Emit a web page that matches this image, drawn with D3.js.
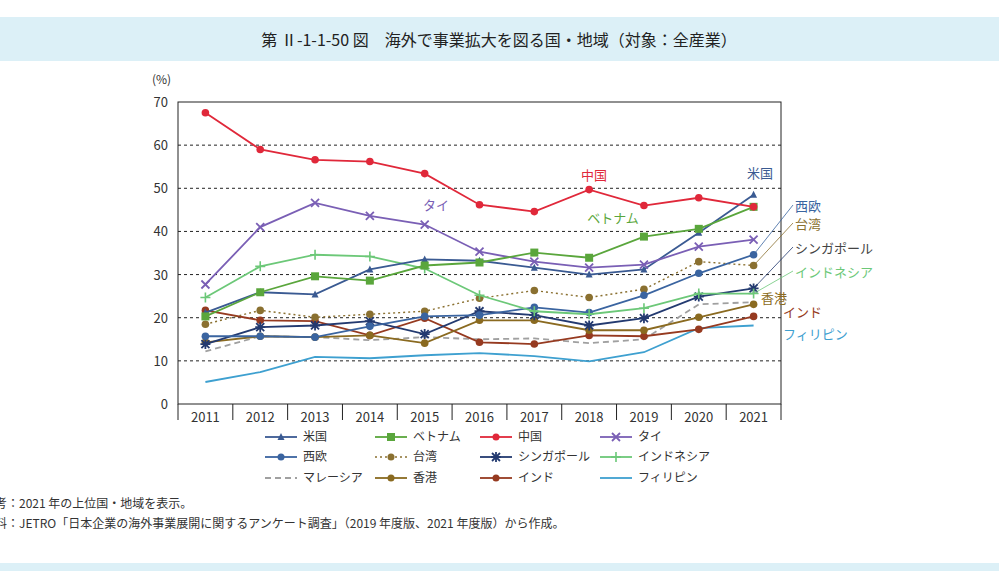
<!DOCTYPE html>
<html lang="ja">
<head>
<meta charset="UTF-8">
<script src="https://cdn.jsdelivr.net/npm/d3@7"></script>
<style>
body{margin:0;background:#fff;font-family:"Noto Sans CJK JP","Noto Sans",sans-serif;}
</style>
</head>
<body>
<svg id="svg" width="999" height="571"></svg>
<script>
const years = ["2011","2012","2013","2014","2015","2016","2017","2018","2019","2020","2021"];
const yTicks = [0,10,20,30,40,50,60,70];
const usa = [21.2,25.9,25.4,31.2,33.5,33.2,31.6,30.0,31.2,39.7,48.5];
const vietnam = [20.3,25.9,29.6,28.6,32.1,32.8,35.1,33.9,38.8,40.6,45.7];
const china = [67.5,59.0,56.6,56.2,53.4,46.2,44.6,49.7,46.0,47.8,45.7];
const thai = [27.7,41.0,46.6,43.6,41.6,35.3,33.0,31.6,32.3,36.5,38.1];
const westEurope = [15.7,15.7,15.5,18.0,20.3,20.6,22.4,21.2,25.2,30.3,34.6];
const taiwan = [18.5,21.7,20.1,20.8,21.5,24.5,26.3,24.7,26.6,33.0,32.1];
const singapore = [13.9,17.8,18.2,19.2,16.2,21.5,20.6,18.2,19.9,24.9,26.8];
const indonesia = [24.7,31.9,34.6,34.2,31.4,25.2,21.5,20.8,22.2,25.6,25.6];
const malaysia = [12.2,15.7,15.5,14.8,15.5,15.0,15.2,14.1,15.0,23.1,23.6];
const hongkong = [14.3,15.7,15.5,15.9,14.1,19.4,19.4,17.1,17.1,20.1,23.1];
const india = [21.7,19.4,19.2,15.9,19.9,14.3,13.9,15.9,15.7,17.3,20.3];
const philippines = [5.1,7.4,10.9,10.6,11.3,11.8,11.1,9.9,12.0,17.6,18.2];

const series = [
  {name:"米国", v:usa, c:"#3a5a92", m:"tri"},
  {name:"ベトナム", v:vietnam, c:"#5aa63c", m:"sq"},
  {name:"中国", v:china, c:"#e0283a", m:"dot"},
  {name:"タイ", v:thai, c:"#7a5fb5", m:"x"},
  {name:"西欧", v:westEurope, c:"#3a64a0", m:"dot"},
  {name:"台湾", v:taiwan, c:"#8a7030", m:"dot", dash:"2,3"},
  {name:"シンガポール", v:singapore, c:"#233a70", m:"star"},
  {name:"インドネシア", v:indonesia, c:"#6cc878", m:"plus"},
  {name:"マレーシア", v:malaysia, c:"#a0a0a0", m:"none", dash:"6,4"},
  {name:"香港", v:hongkong, c:"#8a6a20", m:"dot"},
  {name:"インド", v:india, c:"#963a20", m:"dot"},
  {name:"フィリピン", v:philippines, c:"#3ea0d0", m:"none"}
];

const svg = d3.select("#svg");
// title band
svg.append("rect").attr("x",0).attr("y",17).attr("width",999).attr("height",44).attr("fill","#dcf0f7");
svg.append("rect").attr("x",0).attr("y",563).attr("width",999).attr("height",8).attr("fill","#dcf0f7");
svg.append("text").attr("x",499).attr("y",46).attr("text-anchor","middle").attr("font-size",16).attr("fill","#222")
  .text("第 Ⅱ-1-1-50 図　海外で事業拡大を図る国・地域（対象：全産業）");

const L=178, R=781, T=102, B=404;
const x = d3.scaleBand().domain(years).range([L,R]);
const y = d3.scaleLinear().domain([0,70]).range([B,T]);

svg.append("g").selectAll("line").data(yTicks.filter(d=>d>0&&d<70)).join("line")
  .attr("x1",L).attr("x2",R).attr("y1",d=>y(d)).attr("y2",d=>y(d))
  .attr("stroke","#222").attr("stroke-dasharray","3,3").attr("stroke-width",1);
svg.append("rect").attr("x",L).attr("y",T).attr("width",R-L).attr("height",B-T).attr("fill","none").attr("stroke","#222");
svg.append("g").selectAll("text").data(yTicks).join("text")
  .attr("x",L-10).attr("y",d=>y(d)+5).attr("text-anchor","end").attr("font-size",13).attr("fill","#333").text(d=>d);
svg.append("text").attr("x",152).attr("y",84).attr("font-size",12).attr("fill","#333").text("(%)");
// x axis ticks
svg.append("g").selectAll("line").data(years.concat(["end"])).join("line")
  .attr("x1",(d,i)=>L+i*x.bandwidth()).attr("x2",(d,i)=>L+i*x.bandwidth())
  .attr("y1",B).attr("y2",B+16).attr("stroke","#222");
svg.append("g").selectAll("text").data(years).join("text")
  .attr("x",d=>x(d)+x.bandwidth()/2).attr("y",B+18).attr("text-anchor","middle").attr("font-size",13).attr("fill","#333").text(d=>d);

const cx = d=>x(d)+x.bandwidth()/2;
function marker(g, m, c, px, py, s){
  if(m==="dot") g.append("circle").attr("cx",px).attr("cy",py).attr("r",s||3.8).attr("fill",c);
  else if(m==="sq") g.append("rect").attr("x",px-4).attr("y",py-4).attr("width",8).attr("height",8).attr("fill",c);
  else if(m==="tri") g.append("path").attr("d",`M${px},${py-4}L${px+3.5},${py+3}L${px-3.5},${py+3}Z`).attr("fill",c);
  else if(m==="x") g.append("path").attr("d",`M${px-4},${py-4}L${px+4},${py+4}M${px+4},${py-4}L${px-4},${py+4}`).attr("stroke",c).attr("stroke-width",1.8);
  else if(m==="plus") g.append("path").attr("d",`M${px-5},${py}L${px+5},${py}M${px},${py-5}L${px},${py+5}`).attr("stroke",c).attr("stroke-width",1.6);
  else if(m==="star") g.append("path").attr("d",`M${px-5},${py}L${px+5},${py}M${px},${py-5}L${px},${py+5}M${px-4},${py-4}L${px+4},${py+4}M${px+4},${py-4}L${px-4},${py+4}`).attr("stroke",c).attr("stroke-width",1.8);
}
const line = d3.line().x((d,i)=>cx(years[i])).y(d=>y(d));
const order = [8,11,10,9,6,5,4,7,0,3,1,2];
order.forEach(k=>{
  const s = series[k];
  const g = svg.append("g");
  g.append("path").attr("d",line(s.v)).attr("fill","none").attr("stroke",s.c).attr("stroke-width",s.dash==="2,3"?1.4:1.8)
    .attr("stroke-dasharray",s.dash||null);
  if(s.m!=="none") s.v.forEach((v,i)=>marker(g,s.m,s.c,cx(years[i]),y(v)));
});

// inline labels
const lastX = cx("2021");
const labs = [
  {t:"タイ",x:436,y:210,c:"#7a5fb5",a:"middle"},
  {t:"中国",x:594,y:180,c:"#e0283a",a:"middle"},
  {t:"ベトナム",x:613,y:223,c:"#5aa63c",a:"middle"},
  {t:"米国",x:760,y:178,c:"#3a5a92",a:"middle"},
];
labs.forEach(l=>svg.append("text").attr("x",l.x).attr("y",l.y).attr("text-anchor",l.a).attr("font-size",13).attr("fill",l.c).text(l.t));
const side = [
  {t:"西欧",y:211,k:4,lead:true},
  {t:"台湾",y:229,k:5,lead:true},
  {t:"シンガポール",y:253,k:6,lead:true,c:"#444"},
  {t:"インドネシア",y:277,k:7,lead:true,c:"#6cc878"},
  {t:"香港",y:303,k:9,lead:false,x:761},
  {t:"インド",y:317,k:10,lead:false},
  {t:"フィリピン",y:339,k:11,lead:false}
];
side.forEach(s=>{
  const se = series[s.k];
  const tx = s.x||783;
  if(s.lead) svg.append("line").attr("x1",lastX).attr("y1",y(se.v[10])).attr("x2",tx+10).attr("y2",s.y-6).attr("stroke",se.c).attr("stroke-width",0.8);
  svg.append("text").attr("x",s.lead?tx+12:tx).attr("y",s.y).attr("font-size",13).attr("fill",s.c||se.c).text(s.t);
});

// legend
const cols=[265,375,480,600], rows=[437,457,478];
series.forEach((s,i)=>{
  const lx=cols[i%4], ly=rows[Math.floor(i/4)];
  const g=svg.append("g");
  g.append("line").attr("x1",lx).attr("x2",lx+32).attr("y1",ly).attr("y2",ly).attr("stroke",s.c).attr("stroke-width",s.dash==="2,3"?1.4:1.8).attr("stroke-dasharray",s.dash||null);
  if(s.m!=="none") marker(g,s.m,s.c,lx+16,ly,3.5);
  g.append("text").attr("x",lx+38).attr("y",ly+4).attr("font-size",12).attr("fill","#333").text(s.name);
});

svg.append("text").attr("x",-5).attr("y",508).attr("font-size",12).attr("fill","#333").text("考：2021 年の上位国・地域を表示。");
svg.append("text").attr("x",-5).attr("y",528).attr("font-size",12).attr("fill","#333").text("料：JETRO「日本企業の海外事業展開に関するアンケート調査」（2019 年度版、2021 年度版）から作成。");
</script>
</body>
</html>
